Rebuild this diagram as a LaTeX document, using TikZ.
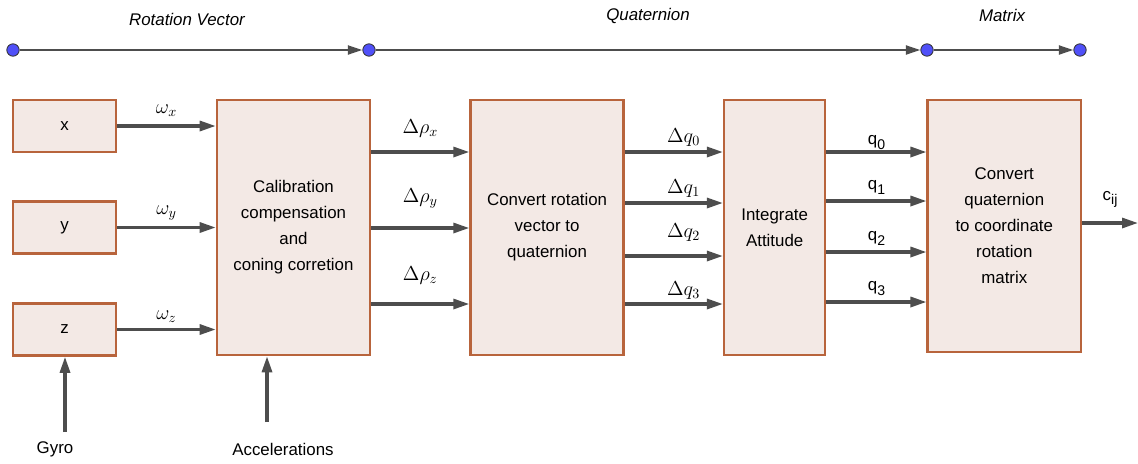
\documentclass[tikz,border=0pt]{standalone}
\usepackage{fontspec}
\setmainfont{Liberation Sans}
\usetikzlibrary{arrows.meta,positioning}
\definecolor{BoxEdge}{HTML}{B8643C}
\definecolor{BoxFill}{HTML}{F3E9E5}
\definecolor{FlowGray}{HTML}{4D4D4D}
\definecolor{DotBlue}{HTML}{5050F8}
\newcommand{\lowsub}[1]{\raisebox{-0.5ex}{\fontsize{10}{10}\selectfont #1}}
\tikzset{
  blk/.style={draw=BoxEdge,line width=1.8pt,fill=BoxFill,align=center,
              inner sep=2pt,font=\fontsize{12}{18.5}\selectfont},
  flow/.style={-{Triangle[length=4mm,width=2.5mm]},line width=2.2pt,draw=FlowGray},
  topflow/.style={-{Triangle[length=3.6mm,width=2.2mm]},line width=1.7pt,draw=FlowGray},
  dot/.style={circle,draw=black!80,fill=DotBlue,line width=0.6pt,inner sep=0pt,minimum size=3.1mm},
  lbl/.style={font=\fontsize{14}{17}\selectfont,anchor=base,inner sep=0pt},
  qlbl/.style={font=\fontsize{12}{14}\selectfont,anchor=base,inner sep=0pt},
  title/.style={font=\fontsize{12}{14}\selectfont\itshape},
  plain/.style={font=\fontsize{12}{14}\selectfont}
}
\begin{document}
\begin{tikzpicture}[x=0.025cm,y=-0.025cm]
  \useasboundingbox (0,0) rectangle (1138,463);

  % domain line
  \node[dot] (d1) at (13,50) {};
  \node[dot] (d2) at (369,50) {};
  \node[dot] (d3) at (927,50) {};
  \node[dot] (d4) at (1080,50) {};
  \draw[topflow] (d1) -- (d2);
  \draw[topflow] (d2) -- (d3);
  \draw[topflow] (d3) -- (d4);
  \node[title] (trv) at (187,19) {Rotation Vector};
  \node[title] (tq) at (648,16) {Quaternion};
  \node[title] (tm) at (1002,15) {Matrix};

  % blocks
  \node[blk,minimum width=2.575cm,minimum height=1.3cm] (gx) at (64.5,126) {x};
  \node[blk,minimum width=2.575cm,minimum height=1.3cm] (gy) at (64.5,227.5) {y};
  \node[blk,minimum width=2.575cm,minimum height=1.3cm] (gz) at (64.5,329.5) {z};
  \node[blk,minimum width=3.825cm,minimum height=6.375cm] (calib) at (293.5,227.5)
    {Calibration\\compensation\\and\\coning corretion};
  \node[blk,minimum width=3.825cm,minimum height=6.375cm,right=2.45cm of calib] (conv)
    {Convert rotation\\vector to\\quaternion};
  \node[blk,minimum width=2.525cm,minimum height=6.375cm,right=2.45cm of conv] (integ)
    {Integrate\\Attitude};
  \node[blk,minimum width=3.825cm,minimum height=6.3cm,right=2.5cm of integ,yshift=0.04cm] (matx)
    {Convert\\quaternion\\to coordinate\\rotation\\matrix};

  % gyro rates
  \draw[flow] (gx) -- node[lbl,yshift=9pt] {$\omega_x$} (calib.west |- gx);
  \draw[flow] (gy) -- node[lbl,yshift=9pt] {$\omega_y$} (calib.west |- gy);
  \draw[flow] (gz) -- node[lbl,yshift=7pt] {$\omega_z$} (calib.west |- gz);

  % rotation vector increments
  \draw[flow] (calib.east |- 0,152) -- node[lbl,yshift=13pt] {$\Delta\rho_x$} (conv.west |- 0,152);
  \draw[flow] (calib.east |- 0,228) -- node[lbl,yshift=18pt] {$\Delta\rho_y$} (conv.west |- 0,228);
  \draw[flow] (calib.east |- 0,304) -- node[lbl,yshift=17pt] {$\Delta\rho_z$} (conv.west |- 0,304);

  % quaternion increments
  \draw[flow] (conv.east |- 0,152) -- node[lbl,pos=.6,yshift=6.5pt] {$\Delta q_0$} (integ.west |- 0,152);
  \draw[flow] (conv.east |- 0,203) -- node[lbl,pos=.6,yshift=7pt] {$\Delta q_1$} (integ.west |- 0,203);
  \draw[flow] (conv.east |- 0,256) -- node[lbl,pos=.6,yshift=13pt] {$\Delta q_2$} (integ.west |- 0,256);
  \draw[flow] (conv.east |- 0,304) -- node[lbl,pos=.6,yshift=6pt] {$\Delta q_3$} (integ.west |- 0,304);

  % attitude quaternion
  \draw[flow] (integ.east |- 0,152) -- node[qlbl,yshift=5pt] {q\lowsub{0}} (matx.west |- 0,152);
  \draw[flow] (integ.east |- 0,201) -- node[qlbl,yshift=8pt] {q\lowsub{1}} (matx.west |- 0,201);
  \draw[flow] (integ.east |- 0,252) -- node[qlbl,yshift=8pt] {q\lowsub{2}} (matx.west |- 0,252);
  \draw[flow] (integ.east |- 0,302) -- node[qlbl,yshift=8pt] {q\lowsub{3}} (matx.west |- 0,302);

  % output
  \coordinate (out) at (1138,223);
  \draw[flow] (matx.east |- out) -- node[qlbl,yshift=16pt] {c\lowsub{ij}} (out);

  % sensors
  \node[plain] (gyro) at (55,449) {Gyro};
  \node[plain] (acc) at (283,449) {Accelerations};
  \coordinate (gyrobase) at (65,432);
  \coordinate (accbase) at (267,422);
  \draw[flow] (gyrobase) -- (gyrobase |- gz.south);
  \draw[flow] (accbase) -- (accbase |- calib.south);
\end{tikzpicture}
\end{document}
